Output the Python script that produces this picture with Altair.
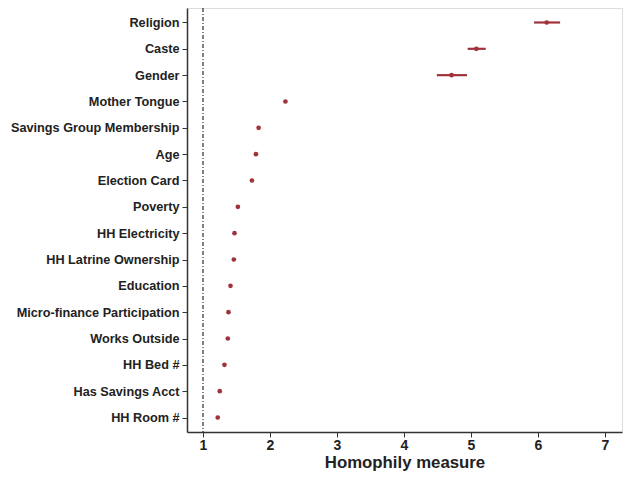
import altair as alt
import pandas as pd

categories = ["Religion", "Caste", "Gender", "Mother Tongue", "Savings Group Membership",
              "Age", "Election Card", "Poverty", "HH Electricity", "HH Latrine Ownership",
              "Education", "Micro-finance Participation", "Works Outside", "HH Bed #",
              "Has Savings Acct", "HH Room #"]
estimate = [6.13, 5.08, 4.71, 2.23, 1.83, 1.79, 1.73, 1.52, 1.47, 1.46, 1.41, 1.38, 1.37, 1.32, 1.25, 1.22]
ci_low = [5.94, 4.95, 4.49, 2.21, 1.81, 1.77, 1.71, 1.50, 1.45, 1.44, 1.39, 1.36, 1.35, 1.30, 1.23, 1.20]
ci_high = [6.33, 5.22, 4.94, 2.25, 1.85, 1.81, 1.75, 1.54, 1.49, 1.48, 1.43, 1.40, 1.39, 1.34, 1.27, 1.24]
reference_line = [1]

df = pd.DataFrame({"cat": categories, "est": estimate, "lo": ci_low, "hi": ci_high})
ref = pd.DataFrame({"x": reference_line})

RED = "#a0333a"
xscale = alt.Scale(domain=[0.761, 7.254], nice=False, zero=False)
yscale = alt.Scale(type="point", domain=categories, padding=0.55)

xaxis = alt.Axis(values=[1, 2, 3, 4, 5, 6, 7], format="d", title="Homophily measure",
                 labelFontSize=14, labelFontWeight="bold", labelColor="#222",
                 titleFontSize=16.8, titleFontWeight="bold", titleColor="#222", titlePadding=2,
                 grid=False, domainColor="#333", domainWidth=1.5, tickColor="#333",
                 tickSize=5, labelPadding=1)
yaxis = alt.Axis(title=None, labelFontSize=12.7, labelFontWeight="bold", labelColor="#222",
                 grid=False, domainColor="#333", domainWidth=1.5, tickColor="#333",
                 tickSize=5, labelPadding=3, labelLimit=300)

bars = alt.Chart(df).mark_rule(color=RED, strokeWidth=2.2).encode(
    x=alt.X("lo:Q", scale=xscale, axis=xaxis),
    x2="hi:Q",
    y=alt.Y("cat:N", scale=yscale, axis=yaxis, sort=categories),
)
pts = alt.Chart(df).mark_circle(color=RED, size=22, opacity=1).encode(
    x=alt.X("est:Q", scale=xscale),
    y=alt.Y("cat:N", scale=yscale, sort=categories),
)
vline = alt.Chart(ref).mark_rule(color="black", strokeWidth=1, strokeDash=[4, 2, 1, 2]).encode(
    x=alt.X("x:Q", scale=xscale),
)

chart = alt.layer(vline, bars, pts).properties(
    width=435, height=424,
    autosize=alt.AutoSizeParams(type="none"),
    padding={"left": 179, "top": 0, "right": 2, "bottom": 39},
).configure_view(
    stroke="#888", strokeWidth=2
).configure(font="Liberation Sans")

chart.save("out.html", embed_options={"renderer": "svg", "actions": False})
